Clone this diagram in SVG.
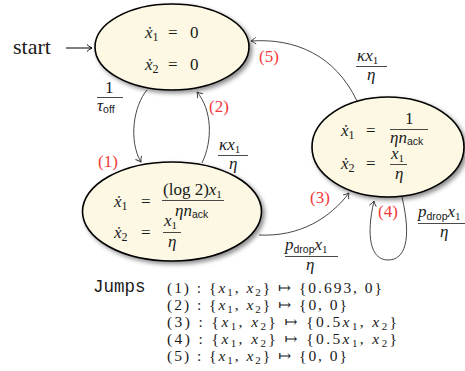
<svg xmlns="http://www.w3.org/2000/svg" width="465" height="371" viewBox="0 0 465 371" font-family="'Liberation Serif', 'DejaVu Serif', serif">
<style>
text{font-family:'Liberation Serif','Times New Roman','DejaVu Serif','Noto Serif',serif}
.m{font-size:17px;fill:#1a1a1a}
.j{font-size:15.5px}
.i{font-style:italic}
tspan.sf{font-family:'Liberation Sans','DejaVu Sans',sans-serif;font-style:normal}
.red{fill:#f23a3a}
text.tt{font-family:'Liberation Mono','Courier New','DejaVu Sans Mono',monospace;font-size:17.5px;fill:#1a1a1a}
.node{fill:#fcf8e3;stroke:#000;stroke-width:1.6;filter:url(#sh)}
.edge{fill:none;stroke:#333;stroke-width:0.9;marker-end:url(#arr)}
.fr{stroke:#1a1a1a;stroke-width:0.8}
</style>
<defs>
<filter id="sh" x="-20%" y="-20%" width="150%" height="150%">
<feDropShadow dx="2.5" dy="2.5" stdDeviation="2" flood-color="#000" flood-opacity="0.45"/>
</filter>
<marker id="arr" markerWidth="10" markerHeight="10" viewBox="-6 -5 8 10" refX="0" refY="0" orient="auto" markerUnits="userSpaceOnUse">
<path d="M-5,-3.5 C-3,-1.5 -1,-0.5 0,0 C-1,0.5 -3,1.5 -5,3.5" fill="none" stroke="#333" stroke-width="0.9"/>
</marker>
<marker id="arrk" markerWidth="10" markerHeight="10" viewBox="-6 -5 8 10" refX="0" refY="0" orient="auto" markerUnits="userSpaceOnUse">
<path d="M-5,-3.5 C-3,-1.5 -1,-0.5 0,0 C-1,0.5 -3,1.5 -5,3.5" fill="none" stroke="#000" stroke-width="1"/>
</marker>
</defs>

<g id="start">
<text class="m" x="13" y="54" style="font-size:22px">start</text>
</g>

<g id="connectors">
<path d="M66,48 L92,48" fill="none" stroke="#000" stroke-width="1" marker-end="url(#arrk)"/>
<path class="edge" d="M147,90 C134,105 128,140 141,162"/>
<path class="edge" d="M202,163 C213,140 212,110 197,92"/>
<path class="edge" d="M259,235 C300,237 330,218 349,193"/>
<path class="edge" d="M357,101 C335,55 295,38 251,41"/>
<path class="edge" d="M402,197 C412,240 405,260 388,260 C370,260 366,235 374,201"/>
</g>

<g id="labels">
<text class="m" x="105" y="93">1</text>
<line class="fr" x1="97" y1="97.5" x2="123" y2="97.5"/>
<text class="m" x="97" y="111"><tspan class="i">τ</tspan><tspan class="sf" font-size="10.5" dy="2">off</tspan></text>
<text class="m red" x="98" y="167">(1)</text>
<text class="m red" x="209" y="112">(2)</text>
<text class="m" x="219" y="150"><tspan class="i">κx</tspan><tspan font-size="11" dy="3">1</tspan></text>
<line class="fr" x1="218" y1="155.5" x2="248" y2="155.5"/>
<text class="m i" x="229" y="169">η</text>
<text class="m red" x="310" y="203">(3)</text>
<text class="m" x="285" y="250"><tspan class="i">p</tspan><tspan class="sf" font-size="10.5" dy="3">drop</tspan><tspan class="i" dy="-3">x</tspan><tspan font-size="11" dy="3">1</tspan></text>
<line class="fr" x1="285" y1="256.5" x2="338" y2="256.5"/>
<text class="m i" x="306" y="270">η</text>
<text class="m red" x="259" y="62">(5)</text>
<text class="m" x="357" y="61"><tspan class="i">κx</tspan><tspan font-size="11" dy="3">1</tspan></text>
<line class="fr" x1="356" y1="66.5" x2="387" y2="66.5"/>
<text class="m i" x="367" y="80">η</text>
<text class="m red" x="378" y="217">(4)</text>
<text class="m" x="418" y="217"><tspan class="i">p</tspan><tspan class="sf" font-size="10.5" dy="3">drop</tspan><tspan class="i" dy="-3">x</tspan><tspan font-size="11" dy="3">1</tspan></text>
<line class="fr" x1="418" y1="223.5" x2="472" y2="223.5"/>
<text class="m i" x="440" y="237">η</text>
</g>

<g id="off">
<ellipse class="node" cx="172" cy="47" rx="77" ry="43"/>
<text class="m" x="145" y="38"><tspan class="i">ẋ</tspan><tspan font-size="12" dy="3">1</tspan><tspan x="168" dy="-3">=</tspan><tspan x="190">0</tspan></text>
<text class="m" x="145" y="70"><tspan class="i">ẋ</tspan><tspan font-size="12" dy="3">2</tspan><tspan x="168" dy="-3">=</tspan><tspan x="190">0</tspan></text>
</g>

<g id="slowstart">
<ellipse class="node" cx="172" cy="211.5" rx="89.5" ry="49.5"/>
<text class="m" x="114" y="207"><tspan class="i">ẋ</tspan><tspan font-size="12" dy="3">1</tspan><tspan x="141" dy="-3">=</tspan></text>
<text class="m" x="163" y="195">(log 2)<tspan class="i">x</tspan><tspan font-size="11" dy="3">1</tspan></text>
<line class="fr" x1="162" y1="200.5" x2="224" y2="200.5"/>
<text class="m" x="175" y="216"><tspan class="i">ηn</tspan><tspan class="sf" font-size="10.5" dy="2">ack</tspan></text>
<text class="m" x="114" y="238"><tspan class="i">ẋ</tspan><tspan font-size="12" dy="3">2</tspan><tspan x="141" dy="-3">=</tspan></text>
<text class="m" x="164" y="226"><tspan class="i">x</tspan><tspan font-size="11" dy="3">1</tspan></text>
<line class="fr" x1="163" y1="232.5" x2="181" y2="232.5"/>
<text class="m i" x="168" y="247">η</text>
</g>

<g id="congavoid">
<ellipse class="node" cx="388" cy="147" rx="76" ry="50"/>
<text class="m" x="341" y="136"><tspan class="i">ẋ</tspan><tspan font-size="12" dy="3">1</tspan><tspan x="366" dy="-3">=</tspan></text>
<text class="m" x="405" y="124">1</text>
<line class="fr" x1="390" y1="129.5" x2="428" y2="129.5"/>
<text class="m" x="390" y="143"><tspan class="i">ηn</tspan><tspan class="sf" font-size="10.5" dy="2">ack</tspan></text>
<text class="m" x="341" y="169"><tspan class="i">ẋ</tspan><tspan font-size="12" dy="3">2</tspan><tspan x="366" dy="-3">=</tspan></text>
<text class="m" x="391" y="159"><tspan class="i">x</tspan><tspan font-size="11" dy="3">1</tspan></text>
<line class="fr" x1="390" y1="164.5" x2="407" y2="164.5"/>
<text class="m i" x="395" y="179">η</text>
</g>

<g id="jumps">
<text class="tt" x="93" y="292">Jumps</text>
<text class="m j" x="167" y="293" textLength="215" lengthAdjust="spacing">(1) : {<tspan class="i">x</tspan><tspan font-size="11" dy="3">1</tspan><tspan dy="-3">, </tspan><tspan class="i">x</tspan><tspan font-size="11" dy="3">2</tspan><tspan dy="-3">} ↦ {0.693, 0}</tspan></text>
<text class="m j" x="167" y="310" textLength="180" lengthAdjust="spacing">(2) : {<tspan class="i">x</tspan><tspan font-size="11" dy="3">1</tspan><tspan dy="-3">, </tspan><tspan class="i">x</tspan><tspan font-size="11" dy="3">2</tspan><tspan dy="-3">} ↦ {0, 0}</tspan></text>
<text class="m j" x="167" y="327" textLength="230" lengthAdjust="spacing">(3) : {<tspan class="i">x</tspan><tspan font-size="11" dy="3">1</tspan><tspan dy="-3">, </tspan><tspan class="i">x</tspan><tspan font-size="11" dy="3">2</tspan><tspan dy="-3">} ↦ {0.5</tspan><tspan class="i">x</tspan><tspan font-size="11" dy="3">1</tspan><tspan dy="-3">, </tspan><tspan class="i">x</tspan><tspan font-size="11" dy="3">2</tspan><tspan dy="-3">}</tspan></text>
<text class="m j" x="167" y="344" textLength="230" lengthAdjust="spacing">(4) : {<tspan class="i">x</tspan><tspan font-size="11" dy="3">1</tspan><tspan dy="-3">, </tspan><tspan class="i">x</tspan><tspan font-size="11" dy="3">2</tspan><tspan dy="-3">} ↦ {0.5</tspan><tspan class="i">x</tspan><tspan font-size="11" dy="3">1</tspan><tspan dy="-3">, </tspan><tspan class="i">x</tspan><tspan font-size="11" dy="3">2</tspan><tspan dy="-3">}</tspan></text>
<text class="m j" x="167" y="361" textLength="180" lengthAdjust="spacing">(5) : {<tspan class="i">x</tspan><tspan font-size="11" dy="3">1</tspan><tspan dy="-3">, </tspan><tspan class="i">x</tspan><tspan font-size="11" dy="3">2</tspan><tspan dy="-3">} ↦ {0, 0}</tspan></text>
</g>
</svg>
